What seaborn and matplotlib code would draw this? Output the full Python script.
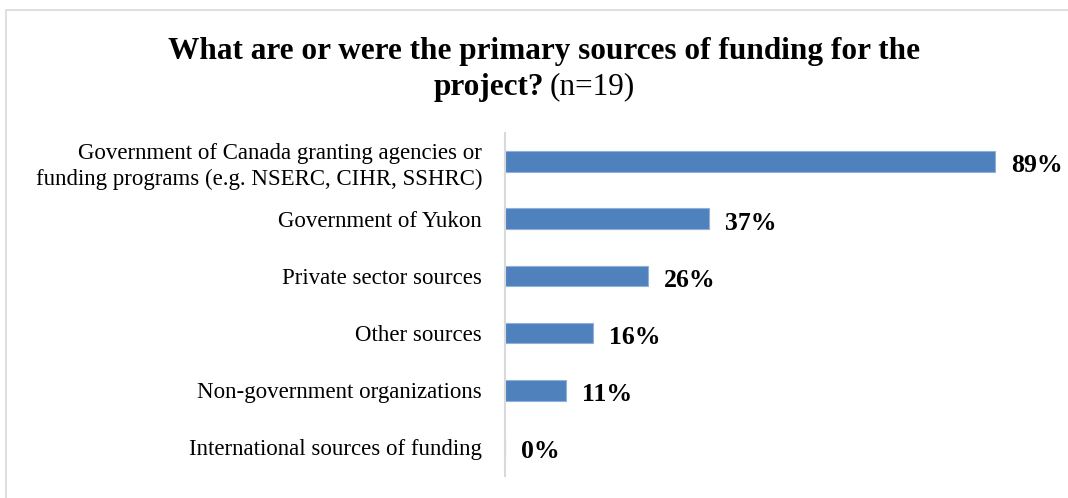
import matplotlib
matplotlib.use("Agg")
import matplotlib.pyplot as plt
import seaborn as sns
import pandas as pd
from matplotlib.patches import Rectangle

categories = [
    "Government of Canada granting agencies or\nfunding programs (e.g. NSERC, CIHR, SSHRC)",
    "Government of Yukon",
    "Private sector sources",
    "Other sources",
    "Non-government organizations",
    "International sources of funding",
]
values = [89, 37, 26, 16, 11, 0]
value_labels = ["89%", "37%", "26%", "16%", "11%", "0%"]

sns.set_theme(style="white")
plt.rcParams['font.family'] = ['Liberation Serif', 'DejaVu Serif']
plt.rcParams['text.color'] = 'black'

df = pd.DataFrame({"cat": categories, "val": values})

fig = plt.figure(figsize=(10.68, 4.98), dpi=100)
ax = fig.add_axes([505/1068, 22/498, 551/1068, 343/498])

sns.barplot(data=df, x="val", y="cat", orient="h", color="#4F81BD",
            saturation=1, width=0.36, ax=ax, edgecolor="#8FB0D9", linewidth=0.8)

ax.set_xlim(0, 100)
ax.set_xlabel("")
ax.set_ylabel("")
ax.set_xticks([])
ax.tick_params(axis="y", length=0, pad=16.5, labelsize=16.5, labelcolor="#000000")
for lbl in ax.get_yticklabels():
    lbl.set_horizontalalignment("right")
    lbl.set_linespacing(1.3)
for s in ["top", "right", "bottom"]:
    ax.spines[s].set_visible(False)
ax.spines["left"].set_color("#D9D9D9")
ax.spines["left"].set_linewidth(1.5)

for i, (v, t) in enumerate(zip(values, value_labels)):
    ax.text(v + 2.9, i + 0.19, t, va="baseline", ha="left", fontsize=18.5,
            fontweight="bold", color="#000000")

fig.text(544/1068, 1 - 52/498, "What are or were the primary sources of funding for the",
         ha="center", va="center", fontsize=22.5, fontweight="bold", color="black")
fig.text(544/1068, 1 - 87/498, r"project?", ha="right", va="center",
         fontsize=22.5, fontweight="bold", color="black")
fig.text(550/1068, 1 - 87/498, "(n=19)", ha="left", va="center", fontsize=22.5,
         color="black")

fig.patches.append(Rectangle((6/1068, -0.1), 1.2, 1 - 10/498 + 0.1,
                             transform=fig.transFigure, fill=False,
                             edgecolor="#D9D9D9", linewidth=1.2))

fig.savefig("out.png", dpi=100)
